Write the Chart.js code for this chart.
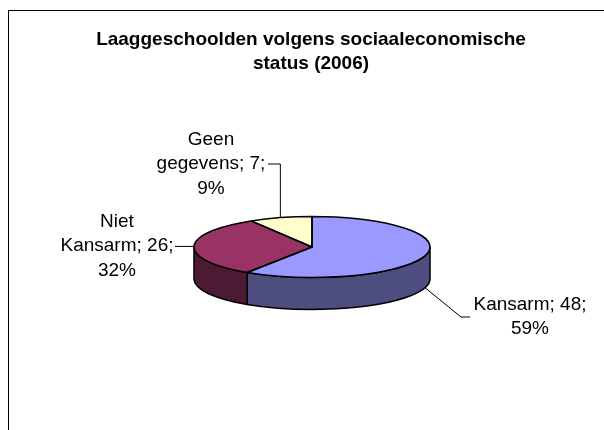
<!DOCTYPE html>
<html>
<head>
<meta charset="utf-8">
<script src="https://cdn.jsdelivr.net/npm/chart.js@4"></script>
<style>
  html, body { margin: 0; padding: 0; background: #fff; }
  canvas { display: block; }
</style>
</head>
<body>
<canvas id="pieChart" width="604" height="430"></canvas>
<script>
// Chart data
const titleLines = ['Laaggeschoolden volgens sociaaleconomische', 'status (2006)'];
const categories = ['Kansarm', 'Niet Kansarm', 'Geen gegevens'];
const values = [48, 26, 7];
const topColors = ['#9999FF', '#993366', '#FFFFCC'];
const sideColors = ['#4D4D80', '#4D1A33', '#808066'];

// where each data label sits (block centre) and its leader line,
// null means: take that coordinate from the slice itself
const labelLayout = [
  { x: 530, y: 317, line: [[461, 317], [470, 317]] },
  { x: 117, y: 246, line: [[175, null]] },
  { x: 211, y: 164, line: [[null, 164], [268, 164]] }
];

const tilt = 0.258;  // vertical squash of the pie
const depth = 32;    // thickness of the pie
const labelFont = '19px "Liberation Sans", Arial, sans-serif';
const titleFont = 'bold 19px "Liberation Sans", Arial, sans-serif';

function wrap(ctx, text, maxW) {
  const words = text.split(' ');
  const lines = [];
  let cur = '';
  words.forEach(w => {
    const test = cur ? cur + ' ' + w : w;
    if (cur && ctx.measureText(test).width > maxW) {
      lines.push(cur);
      cur = w;
    } else {
      cur = test;
    }
  });
  lines.push(cur);
  return lines;
}

// draws the pie as a tilted 3d disc
const pie3d = {
  id: 'pie3d',
  beforeDraw(chart) {
    const ctx = chart.ctx;
    ctx.save();
    ctx.strokeStyle = '#000';
    ctx.lineWidth = 1;
    ctx.strokeRect(8.5, 10.5, 900, 900);
    ctx.fillStyle = '#000';
    ctx.font = titleFont;
    ctx.textAlign = 'center';
    ctx.textBaseline = 'alphabetic';
    ctx.fillText(titleLines[0], 311, 45);
    ctx.fillText(titleLines[1], 311, 69);
    ctx.restore();
  },
  beforeDatasetsDraw(chart) {
    const ctx = chart.ctx;
    const arcs = chart.getDatasetMeta(0).data;
    const cx = arcs[0].x, cy = arcs[0].y, R = arcs[0].outerRadius;

    // side walls, only the front half (0..PI) is visible
    ctx.save();
    ctx.lineWidth = 1.5;
    ctx.lineJoin = 'round';
    ctx.strokeStyle = '#000';
    arcs.forEach((arc, i) => {
      [-2 * Math.PI, 0, 2 * Math.PI].forEach(shift => {
        const a0 = Math.max(arc.startAngle + shift, 0);
        const a1 = Math.min(arc.endAngle + shift, Math.PI);
        if (a1 <= a0) return;
        ctx.beginPath();
        ctx.ellipse(cx, cy, R, R * tilt, 0, a0, a1);
        ctx.lineTo(cx + R * Math.cos(a1), cy + depth + R * tilt * Math.sin(a1));
        ctx.ellipse(cx, cy + depth, R, R * tilt, 0, a1, a0, true);
        ctx.closePath();
        ctx.fillStyle = sideColors[i];
        ctx.fill();
        ctx.stroke();
      });
    });
    ctx.restore();

    // squash the slices chart.js draws next
    ctx.save();
    ctx.translate(cx, cy);
    ctx.scale(1, tilt);
    ctx.translate(-cx, -cy);
  },
  afterDatasetsDraw(chart) {
    const ctx = chart.ctx;
    ctx.restore();
    const arcs = chart.getDatasetMeta(0).data;
    const cx = arcs[0].x, cy = arcs[0].y, R = arcs[0].outerRadius;
    const total = values.reduce((a, b) => a + b, 0);

    ctx.save();
    ctx.lineWidth = 1.5;
    ctx.lineJoin = 'round';
    ctx.strokeStyle = '#000';
    arcs.forEach(arc => {
      ctx.beginPath();
      ctx.moveTo(cx, cy);
      ctx.ellipse(cx, cy, R, R * tilt, 0, arc.startAngle, arc.endAngle);
      ctx.closePath();
      ctx.stroke();
    });

    // leader lines and data labels
    ctx.lineWidth = 1;
    ctx.font = labelFont;
    ctx.fillStyle = '#000';
    ctx.textAlign = 'center';
    ctx.textBaseline = 'middle';
    arcs.forEach((arc, i) => {
      const mid = (arc.startAngle + arc.endAngle) / 2;
      let sx = cx + R * Math.cos(mid);
      let sy = cy + R * tilt * Math.sin(mid);
      if (Math.sin(mid) > 0.05) sy += depth;
      const lay = labelLayout[i];
      ctx.beginPath();
      ctx.moveTo(sx, sy);
      lay.line.forEach(p => {
        ctx.lineTo(p[0] === null ? sx : p[0], p[1] === null ? sy : p[1]);
      });
      ctx.stroke();

      const pct = Math.round(values[i] / total * 100);
      const text = categories[i] + '; ' + values[i] + '; ' + pct + '%';
      const lines = wrap(ctx, text, 118);
      const lh = 24.5;
      lines.forEach((l, j) => {
        ctx.fillText(l, lay.x, lay.y + (j - (lines.length - 1) / 2) * lh);
      });
    });
    ctx.restore();
  }
};

const ctx = document.getElementById('pieChart').getContext('2d');
const pieChart = new Chart(ctx, {
  type: 'pie',
  data: {
    labels: categories,
    datasets: [{
      data: values,
      backgroundColor: topColors,
      borderWidth: 0,
      hoverOffset: 0,
      clip: false
    }]
  },
  options: {
    responsive: false,
    animation: false,
    events: [],
    layout: {
      padding: { left: 194, right: 174, top: 97, bottom: 33 }
    },
    plugins: {
      legend: { display: false },
      tooltip: { enabled: false }
    }
  },
  plugins: [pie3d]
});
</script>
</body>
</html>
